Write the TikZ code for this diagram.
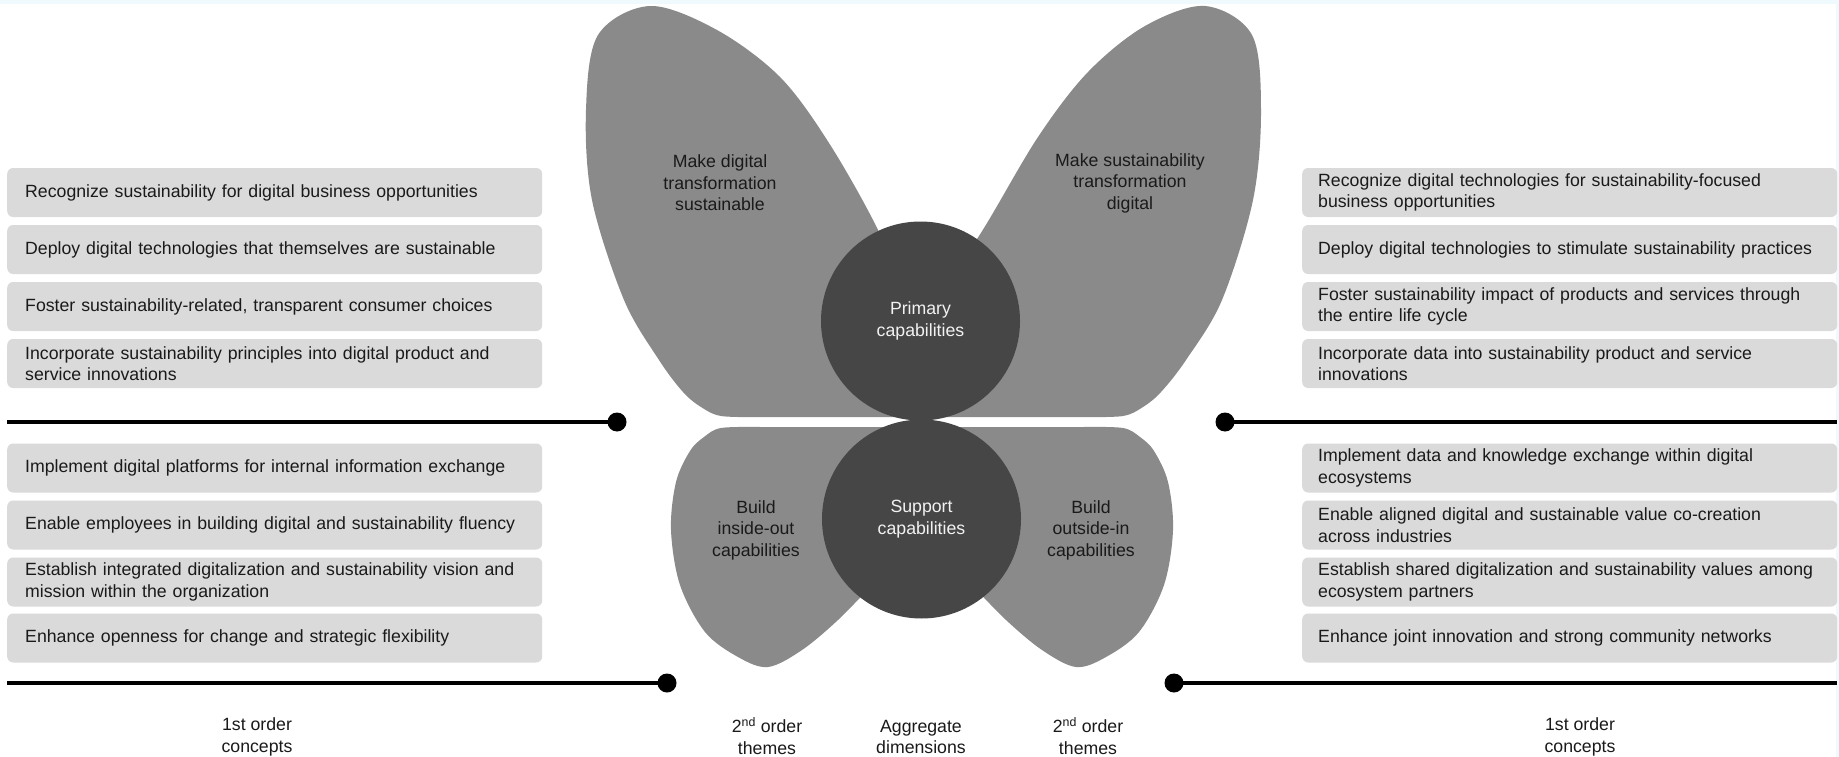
\documentclass[tikz,border=0pt]{standalone}
\usepackage{fontspec}
\setmainfont{Liberation Sans}
\definecolor{wingc}{RGB}{138,138,138}
\definecolor{circc}{RGB}{70,70,70}
\definecolor{boxc}{RGB}{218,218,218}
\definecolor{txtc}{RGB}{26,26,26}
\definecolor{edgec}{RGB}{238,250,253}
\tikzset{
  lbox/.style={draw=none, fill=boxc, rounded corners=6pt, anchor=west,
    text width=499pt, minimum height=49pt, inner xsep=18pt, inner ysep=0pt,
    align=left, text=txtc, font=\fontsize{17.7}{21.5}\selectfont},
  rbox/.style={lbox, text width=503pt, inner xsep=16pt},
  wingtext/.style={align=center, text=txtc, font=\fontsize{17.7}{21.5}\selectfont},
  capcirc/.style={circle, fill=circc, minimum size=199pt, inner sep=0pt,
    align=center, text={rgb,255:red,242;green,242;blue,242}, font=\fontsize{17.7}{21.5}\selectfont},
  axislabel/.style={align=center, text=txtc, font=\fontsize{17.7}{21.5}\selectfont},
  axisline/.style={line width=3.5pt, black},
  dotnode/.style={circle, fill=black, minimum size=19pt, inner sep=0pt},
}
\begin{document}
\begin{tikzpicture}[x=1pt,y=-1pt]
\useasboundingbox (0,0) rectangle (1839,757);
\fill[edgec] (0,0) rectangle (1839,757);
\fill[white] (0,4) rectangle (1836,757);

% upper-left wing
\fill[wingc] plot[smooth, tension=0.55] coordinates {(760,417) (721,416) (701,407) (683,392) (659,360) (624,300) (592,200) (586,110) (598,35) (650,6) (717,30) (780,77) (829,143) (878,230) (905,300)} -- (905,417) -- cycle;
% upper-right wing
\fill[wingc] plot[smooth, tension=0.55] coordinates {(1084,417) (1123,416) (1143,407) (1161,392) (1186,360) (1222,300) (1253,200) (1261,110) (1252,35) (1205,6) (1145,26) (1088,72) (1038,137) (984,228) (937,300)} -- (937,417) -- cycle;
% lower-left wing
\fill[wingc] plot[smooth, tension=0.55] coordinates {(760,427) (721,428) (704,437) (690,451) (676,482) (671,530) (680,585) (705,632) (738,657) (768,667) (802,650) (838,620) (872,585)} -- (900,427) -- cycle;
% lower-right wing
\fill[wingc] plot[smooth, tension=0.55] coordinates {(1084,427) (1123,428) (1140,437) (1154,451) (1168,482) (1173,530) (1164,585) (1139,632) (1106,657) (1076,667) (1042,650) (1006,620) (972,585)} -- (944,427) -- cycle;

% circles
\node[capcirc] (prim) at (920.5,321) {Primary\\capabilities};
\node[capcirc] (supp) at (921.5,519) {Support\\capabilities};

% wing texts
\node[wingtext] (w1) at (720,183) {Make digital\\transformation\\sustainable};
\node[wingtext] (w2) at (1130,183) {Make sustainability\\transformation\\digital};
\node[wingtext] (w3) at (756,530) {Build\\inside-out\\capabilities};
\node[wingtext] (w4) at (1091,530) {Build\\outside-in\\capabilities};

% left upper boxes
\node[lbox] (l1) at (7,192.5) {Recognize sustainability for digital business opportunities};
\node[lbox] (l2) at (7,249.5) {Deploy digital technologies that themselves are sustainable};
\node[lbox] (l3) at (7,306.5) {Foster sustainability-related, transparent consumer choices};
\node[lbox] (l4) at (7,363.5) {Incorporate sustainability principles into digital product and\\service innovations};
% left lower boxes
\node[lbox] (l5) at (7,468) {Implement digital platforms for internal information exchange};
\node[lbox] (l6) at (7,525) {Enable employees in building digital and sustainability fluency};
\node[lbox] (l7) at (7,582) {Establish integrated digitalization and sustainability vision and\\mission within the organization};
\node[lbox] (l8) at (7,638) {Enhance openness for change and strategic flexibility};

% right upper boxes
\node[rbox] (r1) at (1302,192.5) {Recognize digital technologies for sustainability-focused\\business opportunities};
\node[rbox] (r2) at (1302,249.5) {\mbox{Deploy digital technologies to stimulate sustainability practices}};
\node[rbox] (r3) at (1302,306.5) {Foster sustainability impact of products and services through\\the entire life cycle};
\node[rbox] (r4) at (1302,363.5) {Incorporate data into sustainability product and service\\innovations};
% right lower boxes
\node[rbox] (r5) at (1302,468) {Implement data and knowledge exchange within digital\\ecosystems};
\node[rbox] (r6) at (1302,525) {Enable aligned digital and sustainable value co-creation\\across industries};
\node[rbox] (r7) at (1302,582) {\mbox{Establish shared digitalization and sustainability values among}\\ecosystem partners};
\node[rbox] (r8) at (1302,638) {Enhance joint innovation and strong community networks};

% axis lines with dots
\coordinate (ul) at (7,422);
\coordinate (ur) at (1837,422);
\coordinate (ll) at (7,683);
\coordinate (lr) at (1837,683);
\node[dotnode] (d1) at (617,422) {};
\node[dotnode] (d2) at (1225,422) {};
\node[dotnode] (d3) at (667,683) {};
\node[dotnode] (d4) at (1174,683) {};
\draw[axisline] (ul) -- (d1.center);
\draw[axisline] (d2.center) -- (ur);
\draw[axisline] (ll) -- (d3.center);
\draw[axisline] (d4.center) -- (lr);

% bottom labels
\node[axislabel] (b1) at (257,737) {1st order\\concepts};
\node[axislabel] (b2) at (767,737) {2\smash{\textsuperscript{nd}} order\\themes};
\node[axislabel] (b3) at (921,737) {Aggregate\\dimensions};
\node[axislabel] (b4) at (1088,737) {2\smash{\textsuperscript{nd}} order\\themes};
\node[axislabel] (b5) at (1580,737) {1st order\\concepts};
\end{tikzpicture}
\end{document}
